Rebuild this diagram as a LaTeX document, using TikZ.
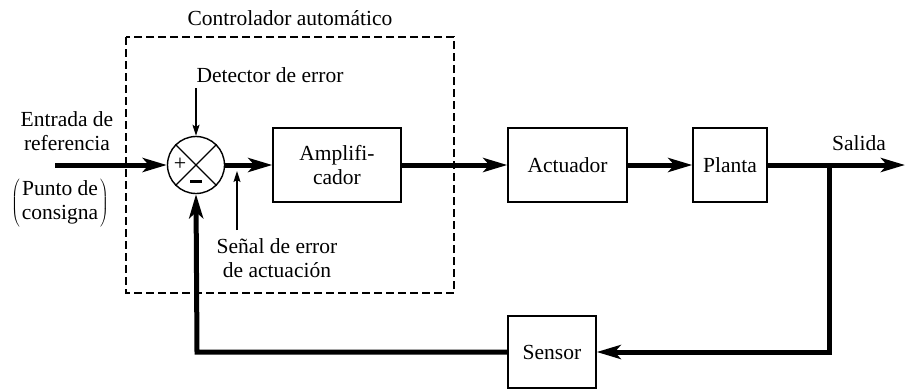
\documentclass[tikz,border=0pt]{standalone}
\usepackage{fontspec}
\setmainfont{Liberation Serif}
\newfontfamily\diagfont{Liberation Serif}
\usetikzlibrary{arrows.meta}
\begin{document}
\begin{tikzpicture}[x=1pt,y=-1pt,
  lbl/.style={font=\diagfont\fontsize{21.5}{24}\selectfont, align=center, inner sep=0pt},
  blk/.style={draw, line width=1.4pt, inner sep=0pt, font=\diagfont\fontsize{21.5}{24}\selectfont, align=center},
  sig/.style={line width=5pt, -{Stealth[length=24pt,width=14pt,inset=6pt]}},
  thin/.style={line width=1.3pt, -{Stealth[length=11pt,width=7pt,inset=2pt]}},
  ctrl/.style={draw, line width=1.2pt, dash pattern=on 8pt off 4pt}]
\useasboundingbox (0,0) rectangle (905,389);

% controller boundary
\draw[ctrl] (126,37) rectangle (454,293);
\node[lbl] (ctl) at (290,18) {Controlador automático};

% blocks
\node[blk, minimum width=128pt, minimum height=74pt] (amp) at (337,165) {Amplifi-\\cador};
\node[blk, minimum width=119pt, minimum height=74pt] (act) at (567.5,165) {Actuador};
\node[blk, minimum width=74pt, minimum height=74pt] (pla) at (730,165) {Planta};
\node[blk, minimum width=88pt, minimum height=72pt] (sen) at (552,352) {Sensor};

% summing junction
\node[draw, circle, line width=1.4pt, minimum size=57pt, inner sep=0pt] (sum) at (196,165) {};
\draw[line width=1.3pt] (sum.north west) -- (sum.south east) (sum.north east) -- (sum.south west);
\node[font=\diagfont\fontsize{22}{22}\selectfont, inner sep=0pt] (plus) at (180,164) {+};
\draw[line width=3pt] (190,181) -- (202,181);

% labels
\node[lbl] (det) at (270,75) {Detector de error};
\node[lbl] (ref) at (67,131) {Entrada de\\referencia};
\node[lbl] (pun) at (60,203) {$\left(\vcenter{\hbox{\begin{tabular}{@{\kern2pt}c@{\kern2pt}}\diagfont Punto de\\\diagfont consigna\end{tabular}}}\right)$};
\node[lbl] (sen2) at (277,258) {Señal de error\\de actuación};
\node[lbl] (out) at (859,143) {Salida};

% coordinates for free ends and bends
\coordinate (in) at (55,165);
\coordinate (yout) at (905,165);
\coordinate (br) at (829,165);
\coordinate (brb) at (829,352);
\coordinate (fbc) at (197,352);
\coordinate (dett) at (196,88);
\coordinate (ea) at (237,230);
\coordinate (eb) at (237,171);

% forward path
\draw[sig] (in) -- (sum.west);
\draw[sig] (sum.east) -- (amp.west);
\draw[sig] (amp.east) -- (act.west);
\draw[sig] (act.east) -- (pla.west);
\draw[sig] (pla.east) -- (yout);

% feedback path
\draw[sig] (br) -- (brb) -- (sen.east);
\draw[sig] (sen.west) -- (fbc) -- (sum.south);

% pointer arrows
\draw[thin] (dett) -- (sum.north);
\draw[thin] (ea) -- (eb);
\end{tikzpicture}
\end{document}
